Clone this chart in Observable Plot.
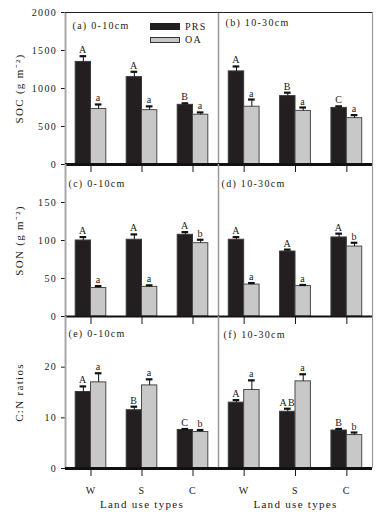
<!DOCTYPE html>
<html><head><meta charset="utf-8">
<script src="https://cdn.jsdelivr.net/npm/d3@7"></script>
<script src="https://cdn.jsdelivr.net/npm/@observablehq/plot@0.6"></script>
<style>
body{margin:0;background:#fff;}
#chart{position:relative;width:384px;height:518px;overflow:hidden;font-family:"Liberation Serif","Times New Roman",serif;color:#1a1a1a;}
#chart svg{position:absolute;}
.sw{position:absolute;box-sizing:border-box;}
.lt{position:absolute;font-size:10px;letter-spacing:1.2px;line-height:10px;color:#1a1a1a;}
</style></head><body><div id="chart"></div>
<script>
// ---- data ----
const landUse = ["W", "S", "C"];
const seriesNames = ["PRS", "OA"];

// SOC (g m-2)
const socPRS010 = [1350, 1150, 785], socPRS010Err = [75, 70, 20], socPRS010Sig = ["A", "A", "B"];
const socOA010 = [730, 715, 655], socOA010Err = [60, 50, 30], socOA010Sig = ["a", "a", "a"];
const socPRS1030 = [1225, 900, 745], socPRS1030Err = [65, 45, 20], socPRS1030Sig = ["A", "B", "C"];
const socOA1030 = [760, 705, 610], socOA1030Err = [95, 45, 40], socOA1030Sig = ["a", "a", "a"];

// SON (g m-2)
const sonPRS010 = [100, 101, 107.5], sonPRS010Err = [4.5, 7, 3.5], sonPRS010Sig = ["A", "A", "A"];
const sonOA010 = [37.5, 39, 96.5], sonOA010Err = [2.5, 2, 4.5], sonOA010Sig = ["a", "a", "b"];
const sonPRS1030 = [101, 85.5, 104], sonPRS1030Err = [3.5, 2.5, 5], sonPRS1030Sig = ["A", "A", "A"];
const sonOA1030 = [42, 40, 92], sonOA1030Err = [2, 1.5, 5], sonOA1030Sig = ["a", "a", "b"];

// C:N ratios
const cnPRS010 = [15.1, 11.5, 7.6], cnPRS010Err = [1.1, 0.7, 0.2], cnPRS010Sig = ["A", "B", "C"];
const cnOA010 = [17, 16.4, 7.2], cnOA010Err = [1.8, 1.2, 0.4], cnOA010Sig = ["a", "a", "b"];
const cnPRS1030 = [13, 11.2, 7.5], cnPRS1030Err = [0.5, 0.6, 0.3], cnPRS1030Sig = ["A", "AB", "B"];
const cnOA1030 = [15.5, 17.2, 6.6], cnOA1030Err = [1.9, 1.4, 0.5], cnOA1030Sig = ["a", "a", "b"];

// axes
const socTicks = [0, 500, 1000, 1500, 2000], socDomain = [0, 2000];
const sonTicks = [0, 50, 100, 150], sonDomain = [0, 200];
const cnTicks = [0, 10, 20], cnDomain = [0, 30];
const yTitles = ["SOC (g m\u207B\u00B2)", "SON (g m\u207B\u00B2)", "C:N ratios"];
const panelLabels = ["(a) 0-10cm", "(b) 10-30cm", "(c) 0-10cm", "(d) 10-30cm", "(e) 0-10cm", "(f) 10-30cm"];
const xTitle = "Land use types";

// ---- layout ----
const ink = "#1a1a1a";
const chart = document.getElementById("chart");
const rowTops = [0, 154, 306];
const rowDefs = [
  {domain: socDomain, ticks: socTicks, base: 3, panels: [
    [socPRS010, socPRS010Err, socPRS010Sig, socOA010, socOA010Err, socOA010Sig],
    [socPRS1030, socPRS1030Err, socPRS1030Sig, socOA1030, socOA1030Err, socOA1030Sig]]},
  {domain: sonDomain, ticks: sonTicks, base: 1.8, panels: [
    [sonPRS010, sonPRS010Err, sonPRS010Sig, sonOA010, sonOA010Err, sonOA010Sig],
    [sonPRS1030, sonPRS1030Err, sonPRS1030Sig, sonOA1030, sonOA1030Err, sonOA1030Sig]]},
  {domain: cnDomain, ticks: cnTicks, base: 3, panels: [
    [cnPRS010, cnPRS010Err, cnPRS010Sig, cnOA010, cnOA010Err, cnOA010Sig],
    [cnPRS1030, cnPRS1030Err, cnPRS1030Sig, cnOA1030, cnOA1030Err, cnOA1030Sig]]}
];
const labelOffsets = [[7, 13], [7, 10], [3, 19], [3, 19], [3, 17], [5, 18]];

function build(vals, err, sig, k) {
  return landUse.map((lu, i) => ({
    lu, s: seriesNames[k],
    x1: i + 0.2 + 0.3 * k, x2: i + 0.5 + 0.3 * k, xc: i + 0.35 + 0.3 * k,
    v: vals[i], top: vals[i] + err[i], sig: sig[i]
  }));
}

rowDefs.forEach((row, r) => {
  row.panels.forEach((p, c) => {
    const isLeft = c === 0, isTop = r === 0, isBottom = r === 2;
    const prs = build(p[0], p[1], p[2], 0);
    const oa = build(p[3], p[4], p[5], 1);
    const all = prs.concat(oa);
    const mt = isTop ? 12 : 10, mb = isBottom ? 50 : 12;
    const ml = isLeft ? 65 : 0, mr = isLeft ? 0 : 12;
    const width = isLeft ? 218 : 166;
    const height = mt + 152 + mb;
    const pl = labelOffsets[r * 2 + c];
    const marks = [
      Plot.rect(prs, {x1: "x1", x2: "x2", y1: 0, y2: "v", fill: "#231f20", stroke: "#3a3a3a", strokeWidth: 1}),
      Plot.rect(oa, {x1: "x1", x2: "x2", y1: 0, y2: "v", fill: "#c8c8c8", stroke: "#4a4a4a", strokeWidth: 1}),
      Plot.ruleX(all, {x: "xc", y1: "v", y2: "top", stroke: "#111", strokeWidth: 1}),
      Plot.ruleY(all, {y: "top", x1: d => d.xc - 0.065, x2: d => d.xc + 0.065, stroke: "#111", strokeWidth: 2.2}),
      Plot.text(all, {x: "xc", y: "top", text: "sig", lineAnchor: "bottom", dy: -3, fontSize: 10, fill: ink}),
      Plot.ruleX([0], {stroke: isLeft ? "#a8a8a8" : "#999", strokeWidth: isLeft ? 2 : 1.5}),
      Plot.ruleY([0], {stroke: "#111", strokeWidth: row.base}),
      Plot.text([panelLabels[r * 2 + c]], {frameAnchor: "top-left", textAnchor: "start", lineAnchor: "middle", dx: pl[0], dy: pl[1], fontSize: 10, fill: ink})
    ];
    if (!isLeft) marks.push(Plot.ruleX([3], {stroke: "#999", strokeWidth: 1.2}));
    if (isTop) marks.push(Plot.ruleY([row.domain[1]], {stroke: "#222", strokeWidth: 1}));
    if (isLeft) marks.push(Plot.text([yTitles[r]], {frameAnchor: "left", rotate: -90, textAnchor: "middle", dx: -46, fontSize: 11, fill: ink}));
    if (isBottom) marks.push(Plot.text([xTitle], {frameAnchor: "bottom", textAnchor: "middle", dy: 39, fontSize: 11, fill: ink}));

    const svg = Plot.plot({
      width, height,
      marginTop: mt, marginBottom: mb, marginLeft: ml, marginRight: mr,
      style: {fontFamily: '"Liberation Serif","Times New Roman",serif', fontSize: "10px", letterSpacing: "1.3px", overflow: "visible", background: "none", color: ink},
      x: {domain: [0, 3], ticks: [0.5, 1.5, 2.5], tickSize: 8, tickPadding: 10,
          tickFormat: isBottom ? (d => landUse[Math.floor(d)]) : (() => ""), label: null},
      y: {domain: row.domain, ticks: row.ticks, tickSize: 4, tickPadding: 4.5, label: null,
          tickFormat: d => String(d), axis: isLeft ? "left" : null},
      marks
    });
    svg.style.left = (isLeft ? 0 : 218) + "px";
    svg.style.top = rowTops[r] + "px";
    chart.appendChild(svg);
  });
});

// legend (inside panel a)
function addDiv(cls, css, text) {
  const d = document.createElement("div");
  d.className = cls;
  Object.assign(d.style, css);
  if (text) d.textContent = text;
  chart.appendChild(d);
}
addDiv("sw", {left: "150px", top: "23px", width: "30px", height: "7px", background: "#231f20"});
addDiv("sw", {left: "150px", top: "37px", width: "30px", height: "6px", background: "#c8c8c8", border: "1px solid #333"});
addDiv("lt", {left: "185px", top: "22px"}, seriesNames[0]);
addDiv("lt", {left: "185px", top: "35px"}, seriesNames[1]);
</script></body></html>
